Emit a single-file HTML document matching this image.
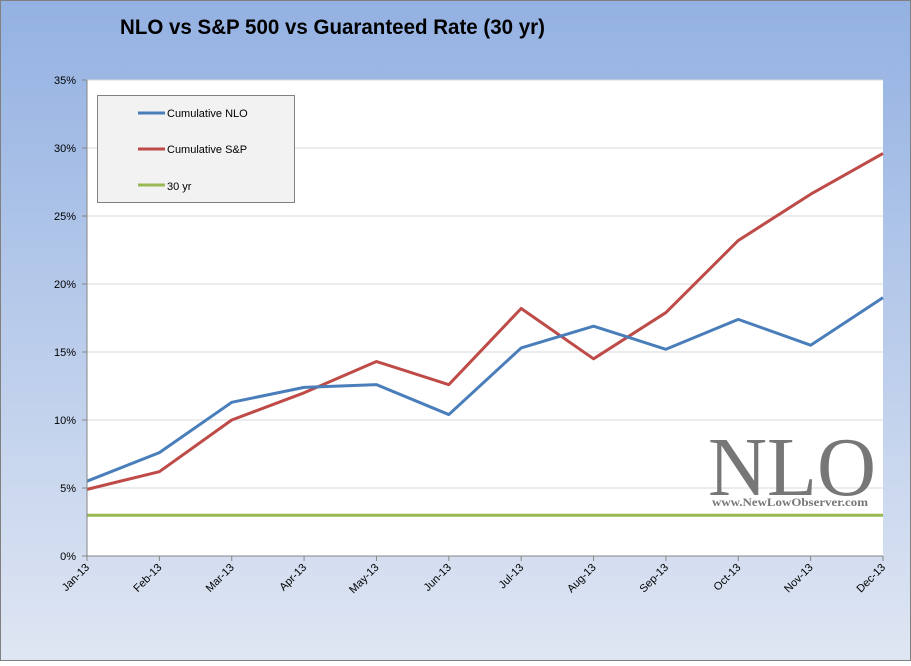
<!DOCTYPE html>
<html><head><meta charset="utf-8"><style>
html,body{margin:0;padding:0;}
body{width:911px;height:661px;overflow:hidden;font-family:"Liberation Sans",sans-serif;}
</style></head><body>
<svg id="chart" width="911" height="661" xmlns="http://www.w3.org/2000/svg">
<defs><linearGradient id="bg" x1="0" y1="0" x2="0" y2="1">
<stop offset="0" stop-color="#93b1e2"/><stop offset="1" stop-color="#dfe6f3"/></linearGradient></defs>
<rect x="0.5" y="0.5" width="910" height="660" fill="url(#bg)" stroke="#808080"/>
<text x="120" y="34" font-size="21" font-weight="bold" fill="#000" textLength="425" lengthAdjust="spacingAndGlyphs">NLO vs S&amp;P 500 vs Guaranteed Rate (30 yr)</text>
<rect x="87" y="80" width="796" height="476" fill="#fff"/>
<g id="grid"></g>
<g id="watermark">
<text x="792" y="495" text-anchor="middle" font-family="Liberation Serif,serif" font-size="84" fill="#777" textLength="168" lengthAdjust="spacingAndGlyphs">NLO</text>
<text x="790" y="506" text-anchor="middle" font-family="Liberation Serif,serif" font-size="11.5" font-weight="bold" fill="#777" textLength="156" lengthAdjust="spacingAndGlyphs">www.NewLowObserver.com</text>
</g>
<g id="series"></g>
<g id="axes"></g>
<g>
<rect x="97.5" y="95.5" width="197" height="107" fill="#f2f2f2" stroke="#808080"/>
<line x1="138" y1="113" x2="165" y2="113" stroke="#4a7ebb" stroke-width="3"/>
<text x="167" y="117" font-size="11">Cumulative NLO</text>
<line x1="138" y1="149" x2="165" y2="149" stroke="#be4b48" stroke-width="3"/>
<text x="167" y="153" font-size="11">Cumulative S&amp;P</text>
<line x1="138" y1="185" x2="165" y2="185" stroke="#98b954" stroke-width="3"/>
<text x="167" y="190" font-size="11">30 yr</text>
</g>
</svg>
<script>
const categories=["Jan-13","Feb-13","Mar-13","Apr-13","May-13","Jun-13","Jul-13","Aug-13","Sep-13","Oct-13","Nov-13","Dec-13"];
const nloValues=[5.5,7.6,11.3,12.4,12.6,10.4,15.3,16.9,15.2,17.4,15.5,19.0];
const spValues=[4.9,6.2,10.0,12.0,14.3,12.6,18.2,14.5,17.9,23.2,26.6,29.6];
const rateValues=[3.0,3.0,3.0,3.0,3.0,3.0,3.0,3.0,3.0,3.0,3.0,3.0];
const yTicks=[0,5,10,15,20,25,30,35];
const NS="http://www.w3.org/2000/svg";
const X0=87,X1=883,Y0=556,Y1=80;
function xs(i){return X0+(X1-X0)*i/(categories.length-1);}
function ys(v){return Y0-(Y0-Y1)*v/35;}
function mk(tag,attrs,parent){const e=document.createElementNS(NS,tag);for(const k in attrs)e.setAttribute(k,attrs[k]);parent.appendChild(e);return e;}
const grid=document.getElementById('grid'),axes=document.getElementById('axes'),series=document.getElementById('series');
yTicks.forEach(t=>{
  const y=ys(t);
  if(t>0){const g=mk('line',{x1:X0,x2:X1,y1:y,y2:y,stroke:'#d9d9d9'},grid);
  
  }
  const tk=mk('line',{x1:X0-5,x2:X0,y1:y,y2:y,stroke:'#868686'},axes);
  
  
  const l=mk('text',{x:X0-11,y:y+4,'text-anchor':'end','font-size':11,fill:'#000'},axes);
  l.textContent=t+'%';
  
  
});
const ya=mk('line',{x1:X0,x2:X0,y1:Y1,y2:Y0,stroke:'#868686'},axes);


const xa=mk('line',{x1:X0,x2:X1,y1:Y0,y2:Y0,stroke:'#868686'},axes);


categories.forEach((c,i)=>{
  const x=xs(i);
  const tk=mk('line',{x1:x,x2:x,y1:Y0,y2:Y0+5,stroke:'#868686'},axes);
  
  
  const l=mk('text',{x:x+3,y:Y0+12,'text-anchor':'end','font-size':11,fill:'#000',transform:`rotate(-45 ${x+3} ${Y0+12})`},axes);
  l.textContent=c;
  
  
});
function line(vals,color,name){
  const p=mk('polyline',{points:vals.map((v,i)=>xs(i)+','+ys(v)).join(' '),fill:'none',stroke:color,'stroke-width':3,'stroke-linejoin':'round'},series);
  
  
}
line(rateValues,'#98b954','line-30yr');
line(spValues,'#be4b48','line-cumulative-sp');
line(nloValues,'#4a7ebb','line-cumulative-nlo');
</script>
</body></html>
